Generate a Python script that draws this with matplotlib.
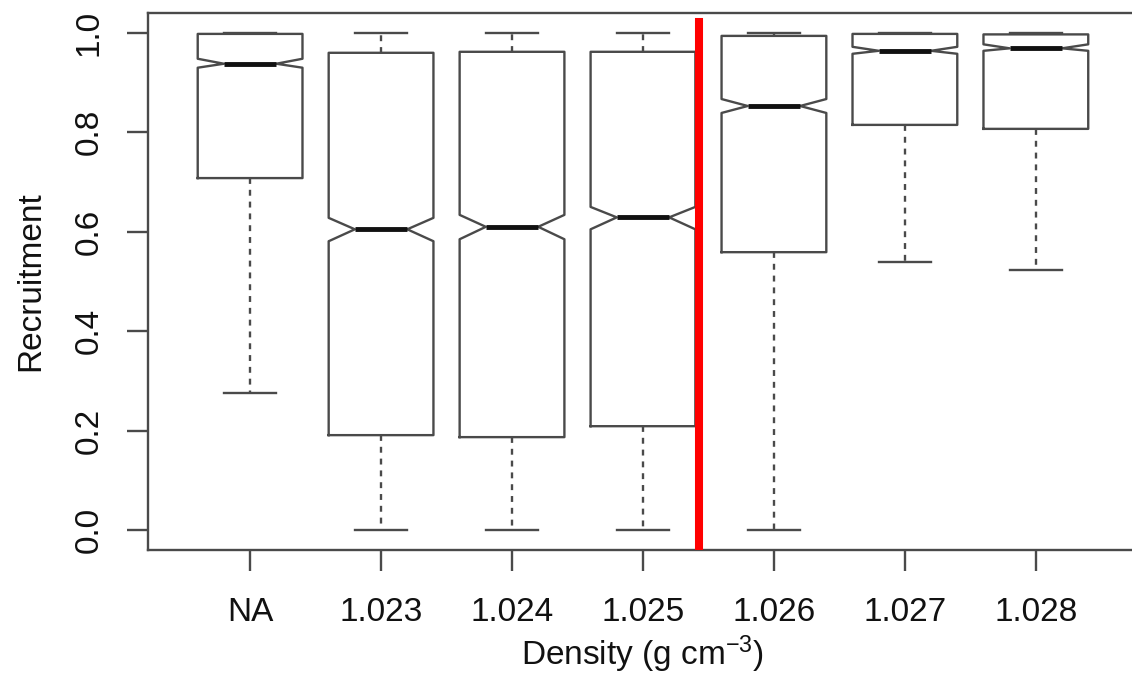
import matplotlib
matplotlib.use("Agg")
import matplotlib.pyplot as plt

plt.rcParams['font.family'] = ['Liberation Sans', 'DejaVu Sans']
plt.rcParams['mathtext.fontset'] = 'custom'
plt.rcParams['mathtext.rm'] = 'Liberation Sans'
plt.rcParams['mathtext.it'] = 'Liberation Sans'

# recruitment summaries per density class
labels = ['NA', '1.023', '1.024', '1.025', '1.026', '1.027', '1.028']
whislo = [0.276, 0.0, 0.0, 0.0, 0.0, 0.539, 0.523]
q1 = [0.708, 0.191, 0.187, 0.209, 0.559, 0.815, 0.807]
conf_lo = [0.930, 0.581, 0.585, 0.605, 0.839, 0.958, 0.964]
med = [0.938, 0.605, 0.610, 0.629, 0.853, 0.964, 0.969]
conf_hi = [0.948, 0.628, 0.634, 0.650, 0.867, 0.972, 0.977]
q3 = [0.998, 0.960, 0.962, 0.962, 0.994, 0.998, 0.997]
whishi = [1.0, 1.0, 1.0, 1.0, 1.0, 1.0, 1.0]
threshold = 4.43

stats = []
for i in range(len(labels)):
    stats.append({
        'label': labels[i], 'whislo': whislo[i], 'q1': q1[i],
        'cilo': conf_lo[i], 'med': med[i], 'cihi': conf_hi[i],
        'q3': q3[i], 'whishi': whishi[i], 'fliers': [],
    })

edge = '#4a4a4a'

fig = plt.figure(figsize=(11.32, 6.78), dpi=100)
# plot region runs past the right edge of the figure
ax = fig.add_axes([0.1307, 0.1888, 0.8746, 0.792])

ax.bxp(stats, positions=range(1, 8), widths=0.8, shownotches=True,
       showfliers=False,
       boxprops=dict(color=edge, linewidth=1.7),
       whiskerprops=dict(color=edge, linewidth=1.7, linestyle=(0, (2.5, 2.5))),
       capprops=dict(color=edge, linewidth=1.7),
       medianprops=dict(color='#111111', linewidth=3.5, solid_capstyle='butt'))

ax.set_xlim(0.22, 7.78)
ax.set_ylim(-0.04, 1.04)

ax.axvline(threshold, ymin=0, ymax=(1.022 + 0.04) / 1.08, color='#ff0000',
           linewidth=5.8, zorder=5)

for s in ax.spines.values():
    s.set_color(edge)
    s.set_linewidth(1.7)

ax.set_yticks([0.0, 0.2, 0.4, 0.6, 0.8, 1.0])
ax.set_yticklabels(['0.0', '0.2', '0.4', '0.6', '0.8', '1.0'],
                   rotation=90, va='center')
ax.set_xticks(range(1, 8))
ax.set_xticklabels(labels)
ax.tick_params(axis='both', direction='out', length=15, width=1.7,
               color=edge, labelsize=24, labelcolor='#111111')
ax.tick_params(axis='x', pad=19)
ax.tick_params(axis='y', pad=16)

ax.set_ylabel('Recruitment', fontsize=24, color='#111111', labelpad=20)
ax.set_xlabel(r'Density (g cm$^{-3}$)', fontsize=24, color='#111111',
              labelpad=4)

fig.savefig('out.png', dpi=100)
